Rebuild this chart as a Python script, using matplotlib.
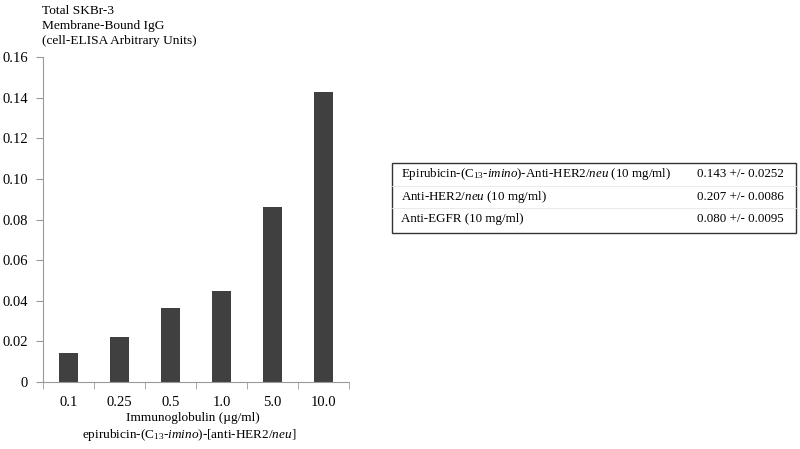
import matplotlib.pyplot as plt
import numpy as np

plt.rcParams['font.family'] = 'Liberation Serif'
plt.rcParams['mathtext.fontset'] = 'custom'
plt.rcParams['mathtext.rm'] = 'Liberation Serif'
plt.rcParams['mathtext.it'] = 'Liberation Serif:italic'

# data
doses = ['0.1', '0.25', '0.5', '1.0', '5.0', '10.0']
igg = [0.0143, 0.0224, 0.0364, 0.0448, 0.0862, 0.1428]
yticks = [0, 0.02, 0.04, 0.06, 0.08, 0.10, 0.12, 0.14, 0.16]
ylabels = ['0', '0.02', '0.04', '0.06', '0.08', '0.10', '0.12', '0.14', '0.16']
table_names = [r'Epirubicin-(C$_{13}$-$\mathit{imino}$)-Anti-HER2/$\mathit{neu}$ (10 mg/ml)',
               r'Anti-HER2/$\mathit{neu}$ (10 mg/ml)',
               'Anti-EGFR (10 mg/ml)']
table_vals = ['0.143 +/- 0.0252', '0.207 +/- 0.0086', '0.080 +/- 0.0095']

W, H = 800, 449
fig = plt.figure(figsize=(8, 4.49), dpi=100)
ax = fig.add_axes([0.054, 0.149, 0.382, 0.724])

x = np.arange(len(doses))
ax.bar(x, igg, width=0.38, color='#404040')
ax.set_xlim(-0.5, len(doses) - 0.5)
ax.set_ylim(0, 0.16)
ax.set_yticks(yticks)
ax.set_yticklabels(ylabels, fontsize=10.5)
ax.set_xticks(x)
ax.set_xticklabels(doses, fontsize=10.5)
ax.set_xticks(np.arange(len(doses) + 1) - 0.5, minor=True)
ax.tick_params(axis='x', which='major', length=0, pad=10)
ax.tick_params(axis='x', which='minor', length=5, color='#999999')
ax.tick_params(axis='y', length=5, color='#999999', pad=6)
for s in ['top', 'right']:
    ax.spines[s].set_visible(False)
for s in ['left', 'bottom']:
    ax.spines[s].set_color('#999999')

# x axis title, two lines
fig.text(193 / W, 1 - 418 / H, 'Immunoglobulin (\u00b5g/ml)', fontsize=9.5, ha='center', va='center')
fig.text(189 / W, 1 - 435 / H, r'epirubicin-(C$_{13}$-$\mathit{imino}$)-[anti-HER2/$\mathit{neu}$]',
         fontsize=9.5, ha='center', va='center')

fig.text(42 / W, 1 - 5 / H, 'Total SKBr-3\nMembrane-Bound IgG\n(cell-ELISA Arbitrary Units)',
         fontsize=9.6, va='top', ha='left', linespacing=1.35)

# table box
box = plt.Rectangle((392 / W, 1 - 233 / H), 404 / W, 70 / H,
                    transform=fig.transFigure, fill=False, edgecolor='#333333', lw=1.0)
fig.add_artist(box)
rows_y = [174, 197, 219]
for yy in [186, 208]:
    fig.add_artist(plt.Line2D([392 / W, 796 / W], [1 - yy / H] * 2,
                              transform=fig.transFigure, color='#e6e6e6', lw=0.6))
for name, val, yy in zip(table_names, table_vals, rows_y):
    fig.text(401 / W, 1 - yy / H, name, fontsize=9.4, va='center', ha='left')
    fig.text(697 / W, 1 - yy / H, val, fontsize=9.4, va='center', ha='left')

fig.savefig('out.png', dpi=100)
